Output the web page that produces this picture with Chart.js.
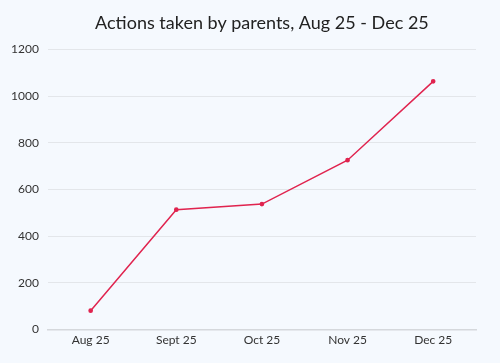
<!DOCTYPE html>
<html>
<head>
<meta charset="utf-8">
<script src="https://cdn.jsdelivr.net/npm/chart.js@4/dist/chart.umd.min.js"></script>
<style>
html,body{margin:0;padding:0;background:#f5f9fe;}
#wrap{width:500px;height:363px;position:relative;}
</style>
</head>
<body>
<div id="wrap"><canvas id="c" width="500" height="363"></canvas></div>
<script>
const categories = ["Aug 25", "Sept 25", "Oct 25", "Nov 25", "Dec 25"];
const actions = [81, 514, 538, 726, 1064];
const yTicks = [0, 200, 400, 600, 800, 1000, 1200];

const font = "Lato, 'Open Sans', sans-serif";
new Chart(document.getElementById('c'), {
  type: 'line',
  data: {
    labels: categories,
    datasets: [{
      label: 'Actions',
      data: actions,
      borderColor: '#e0244f',
      backgroundColor: '#e0244f',
      borderWidth: 1.5,
      pointRadius: 1.6,
      pointHoverRadius: 3,
      tension: 0
    }]
  },
  options: {
    responsive: false,
    animation: false,
    layout: { padding: { left: 2, right: 24, top: 8, bottom: 13 } },
    plugins: {
      legend: { display: false },
      tooltip: { enabled: false },
      title: {
        display: true,
        fullSize: false,
        text: 'Actions taken by parents, Aug 25 - Dec 25',
        color: '#222',
        font: { family: font, size: 18, weight: 'normal' },
        padding: { top: 4, bottom: 16 }
      }
    },
    scales: {
      x: {
        offset: true,
        grid: { display: false, drawTicks: false },
        border: { color: '#d5d8dc', width: 1.5 },
        ticks: { color: '#333', font: { family: font, size: 12 }, padding: 3 }
      },
      y: {
        min: 0, max: 1200,
        afterBuildTicks: (s) => { s.ticks = yTicks.map(v => ({ value: v })); },
        grid: { color: '#e3e6ea', drawTicks: false },
        border: { display: false },
        ticks: { color: '#333', font: { family: font, size: 12 }, padding: 9, callback: (v) => String(v) }
      }
    }
  }
});
</script>
</body>
</html>
